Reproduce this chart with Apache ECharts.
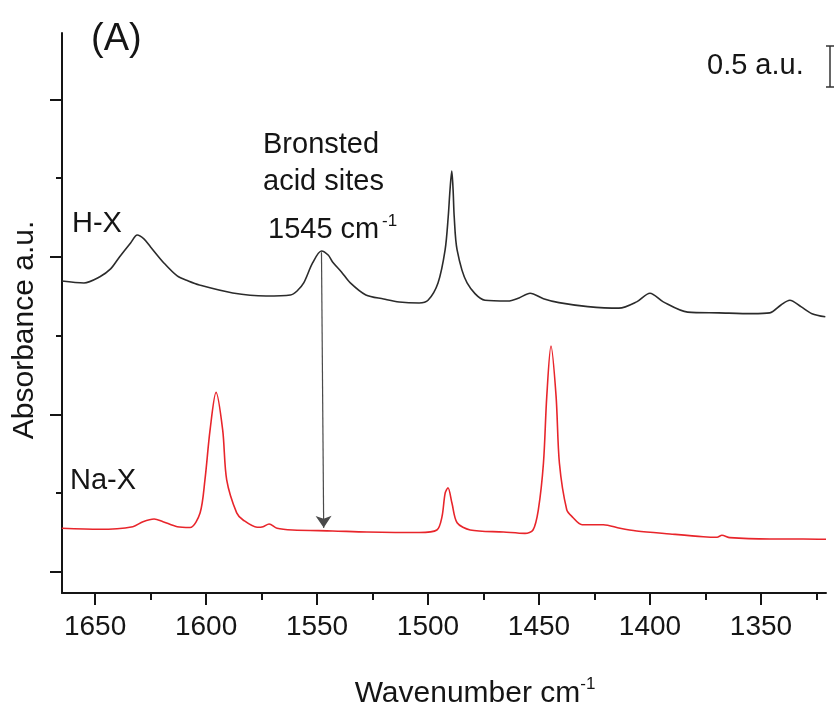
<!DOCTYPE html>
<html><head><meta charset="utf-8">
<script src="https://cdn.jsdelivr.net/npm/echarts@6/dist/echarts.min.js"></script>
<style>html,body{margin:0;padding:0;background:#fff}#c{width:839px;height:708px}</style>
</head><body><div id="c"></div>
<script>
// ---- Data (wavenumber in cm-1, absorbance in arbitrary offset units) ----
const hxWavenumber = [1665,1655,1648,1643,1639,1634,1631,1628,1625,1619,1613,1608,1603,1588,1573,1562,1559,1556,1552,1548,1545,1543,1539,1535,1528,1520,1513,1504,1500,1495.5,1492.3,1490.9,1490.1,1489.3,1488.7,1488.2,1486.9,1482.4,1474.3,1464,1459,1454,1448,1441,1428,1414,1406,1400,1394,1383,1369,1354,1346,1341,1337,1332,1327,1321];
const hxAbsorbance = [3.695,3.670,3.746,3.848,4.000,4.178,4.279,4.229,4.127,3.924,3.759,3.695,3.644,3.543,3.505,3.517,3.568,3.670,3.924,4.076,4.025,3.937,3.810,3.670,3.517,3.467,3.429,3.416,3.45,3.67,4.09,4.51,4.85,5.09,4.85,4.51,4.09,3.67,3.45,3.44,3.48,3.54,3.47,3.42,3.37,3.35,3.43,3.54,3.43,3.30,3.29,3.28,3.29,3.39,3.45,3.37,3.28,3.24];
const naxWavenumber = [1665,1648,1633,1628.4,1623.4,1619.4,1613,1607.2,1602.7,1600.5,1598.2,1595.5,1592.5,1590.7,1586.2,1583.3,1577,1574.3,1571.6,1568,1561,1543,1527.5,1504,1496,1493.7,1492.3,1491,1489.2,1486.9,1481,1466,1456.3,1452.7,1450.3,1448,1446.5,1444.6,1442.3,1440.8,1437.5,1435,1430.6,1421,1413.5,1406,1391,1376,1369.8,1367.6,1364,1346,1331,1320.7];
const naxAbsorbance = [0.555,0.542,0.575,0.639,0.673,0.639,0.575,0.565,0.75,1.17,1.80,2.28,1.80,1.17,0.75,0.66,0.568,0.575,0.61,0.555,0.533,0.521,0.508,0.501,0.533,0.702,0.999,1.07,0.872,0.626,0.533,0.508,0.49,0.533,0.79,1.38,2.23,2.87,2.23,1.38,0.79,0.70,0.60,0.60,0.555,0.521,0.483,0.448,0.441,0.466,0.436,0.419,0.419,0.415];
const majorWavenumberTicks = [1650,1600,1550,1500,1450,1400,1350];
const minorWavenumberTicks = [1625,1575,1525,1475,1425,1375,1325];
const majorAbsTicks = [0,2,4,6];
const minorAbsTicks = [1,3,5];
const arrowStart = [1548, 4.06];
const arrowEnd = [1547, 0.56];
const seriesNames = ['H-X','Na-X'];

const FONT = 'Liberation Sans, Arial, sans-serif';
const INK = '#151515';
const xRange = {min: 1320.7, max: 1664.9};
const yRange = {min: -0.267, max: 6.844};

const chart = echarts.init(document.getElementById('c'), null, {renderer: 'canvas'});
const zip = (a, b) => a.map((v, i) => [v, b[i]]);

const baseX = {
  type: 'value', inverse: true, min: xRange.min, max: xRange.max, position: 'bottom',
  splitLine: {show: false}
};
const baseY = {
  type: 'value', min: yRange.min, max: yRange.max, position: 'left',
  splitLine: {show: false}
};

chart.setOption({
  animation: false,
  backgroundColor: '#fff',
  grid: {left: 62, right: 13, top: 33, bottom: 115, containLabel: false, outerBoundsMode: 'none'},
  xAxis: [
    Object.assign({}, baseX, {
      name: '{a|Wavenumber cm}{s|-1}',
      nameLocation: 'middle', nameGap: 83,
      nameTextStyle: {padding: [0, 0, 0, 62],
        rich: {a: {fontFamily: FONT, fontSize: 30, color: INK, lineHeight: 36},
               s: {fontFamily: FONT, fontSize: 17, color: INK, lineHeight: 17, verticalAlign: 'top'}}},
      axisLine: {show: true, onZero: false, lineStyle: {color: INK, width: 2}},
      axisTick: {show: true, inside: false, length: 12, customValues: majorWavenumberTicks, lineStyle: {color: INK, width: 2}},
      axisLabel: {show: true, customValues: majorWavenumberTicks, margin: 20, fontFamily: FONT, fontSize: 28, color: INK,
                  formatter: v => String(v)}
    }),
    Object.assign({}, baseX, {
      axisLine: {show: false, onZero: false},
      axisTick: {show: true, length: 7, customValues: minorWavenumberTicks, lineStyle: {color: INK, width: 2}},
      axisLabel: {show: false}
    })
  ],
  yAxis: [
    Object.assign({}, baseY, {
      name: 'Absorbance a.u.', nameLocation: 'middle', nameGap: 22, nameRotate: 90,
      nameTextStyle: {fontFamily: FONT, fontSize: 30, color: INK, padding: [0, 34, 0, 0]},
      axisLine: {show: true, onZero: false, lineStyle: {color: INK, width: 2}},
      axisTick: {show: true, length: 12, customValues: majorAbsTicks, lineStyle: {color: INK, width: 2}},
      axisLabel: {show: false}
    }),
    Object.assign({}, baseY, {
      axisLine: {show: false, onZero: false},
      axisTick: {show: true, length: 6, customValues: minorAbsTicks, lineStyle: {color: INK, width: 2}},
      axisLabel: {show: false}
    })
  ],
  series: [
    {
      name: seriesNames[0], type: 'line', data: zip(hxWavenumber, hxAbsorbance),
      showSymbol: false, smooth: 0.3,
      lineStyle: {color: '#2b2b2b', width: 1.6}, z: 3,
      markLine: {
        silent: true, symbol: ['none', 'arrow'], symbolSize: 12,
        lineStyle: {color: '#4a4a4a', width: 1.2, type: 'solid'},
        label: {show: false},
        data: [[{coord: arrowStart}, {coord: arrowEnd}]]
      }
    },
    {
      name: seriesNames[1], type: 'line', data: zip(naxWavenumber, naxAbsorbance),
      showSymbol: false, smooth: 0.3,
      lineStyle: {color: '#e8252b', width: 1.6}, z: 3
    }
  ],
  graphic: [
    {type: 'text', left: 91, top: 21, style: {text: '(A)', font: '38px ' + FONT, fill: INK}},
    {type: 'text', x: 707, y: 66, style: {text: '0.5 a.u.', font: '29px ' + FONT, fill: INK, verticalAlign: 'middle'}},
    {type: 'group', children: [
      {type: 'line', shape: {x1: 830, y1: 46, x2: 830, y2: 87}, style: {stroke: '#333', lineWidth: 1.5}},
      {type: 'line', shape: {x1: 826, y1: 46, x2: 834, y2: 46}, style: {stroke: '#333', lineWidth: 1.5}},
      {type: 'line', shape: {x1: 826, y1: 87, x2: 834, y2: 87}, style: {stroke: '#333', lineWidth: 1.5}}
    ]},
    {type: 'text', x: 263, y: 145, style: {text: 'Bronsted', font: '29px ' + FONT, fill: INK, verticalAlign: 'middle'}},
    {type: 'text', x: 263, y: 182, style: {text: 'acid sites', font: '29px ' + FONT, fill: INK, verticalAlign: 'middle'}},
    {type: 'text', x: 268, y: 230, style: {text: '1545 cm', font: '29px ' + FONT, fill: INK, verticalAlign: 'middle'}},
    {type: 'text', x: 382, y: 221, style: {text: '-1', font: '17px ' + FONT, fill: INK, verticalAlign: 'middle'}},
    {type: 'text', x: 72, y: 224, style: {text: seriesNames[0], font: '29px ' + FONT, fill: INK, verticalAlign: 'middle'}},
    {type: 'text', x: 70, y: 481, style: {text: seriesNames[1], font: '29px ' + FONT, fill: INK, verticalAlign: 'middle'}}
  ]
});
</script></body></html>
